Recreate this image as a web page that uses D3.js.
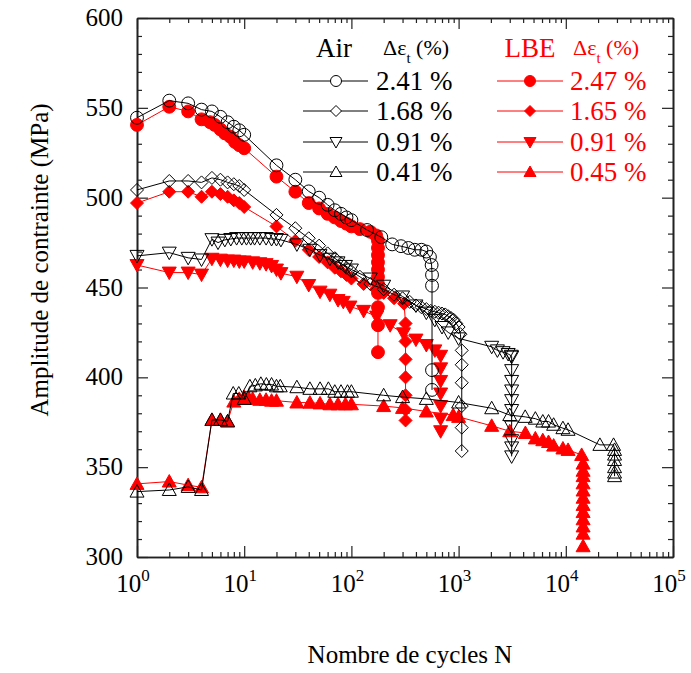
<!DOCTYPE html>
<html><head><meta charset="utf-8">
<script src="https://cdn.jsdelivr.net/npm/d3@7"></script>
<style>
body{margin:0;background:#fff;}
</style></head>
<body><svg id="c" width="691" height="673" font-family="'Liberation Serif', 'Times New Roman', Times, 'DejaVu Serif', serif"></svg>
<script>
// ---------------- DATA ----------------
const airLabels = ["2.41 %","1.68 %","0.91 %","0.41 %"];
const lbeLabels = ["2.47 %","1.65 %","0.91 %","0.45 %"];
const xTickExps = [0,1,2,3,4,5];
const yTicks = [300,350,400,450,500,550,600];

const air241N = [1,2,3,4,5,6,7,8,9,10,20,30,40,50,60,70,80,90,100,140,190,240,290,340,390,450,500,540,560,565,565,565,565];
const air241S = [544.5,554,552.5,549,548,545,542,539.5,537.5,535,518,510,503.5,500,496,493,491,489,487.5,482,478,474,473,472,471,471,470,467,462.5,457,451,404,393];

const lbe247N = [1,2,3,4,4.8,5.3,6,6.6,7.4,8.2,9,10,20,30,40,50,60,70,80,90,100,120,150,170,177,177,177,177,177,177,177,177,177,177,177];
const lbe247S = [540.5,550.6,548,543.6,542,540.5,538,535.8,534,531,529.2,527.5,511.7,503.3,497,494,491,489,487,485.5,484,482.5,481,479,476,472,468,464,460,456,452,447,439,429,414];

const air168N = [1,2,3,4,5,6,7,8,9,10,20,30,40,50,60,70,80,90,100,120,150,200,250,300,350,400,450,500,550,600,650,700,750,800,850,900,950,1000,1040,1070,1070,1070,1070,1070,1070];
const air168S = [504.3,509.3,509.3,508.5,511,510,508.5,507.5,506.5,504.3,490.4,483,477.4,473.3,469,466.3,463.5,461,459,456,452,449,446,444,442,440,439,438,437,436.5,436,435.5,435,434,433,432,430,428,424,415,407,397,384,372,359];

const lbe165N = [1,2,3,4,5,6,7,8,9,10,20,30,40,50,60,70,80,90,100,130,170,200,250,310,320,320,320,320,320,320,320];
const lbe165S = [497,503.3,503.3,500.5,503.3,502,500.5,498.5,497,494.8,484,476,471,467,464,461,459,457,455,452,449,447,444,441,430,420,410,400,390,382,376];

const air091N = [1,2,3,4,5,5.7,6.6,7.5,8.5,9.5,10.5,11.5,12.5,14,16,18,20,22,31,41,51,63,75,88,100,150,200,300,400,500,600,700,800,1000,2036,2300,2600,2900,3100,3125,3125,3125,3125,3125,3125,3125,3125,3125,3125];
const air091S = [467.6,469.4,466.5,465.6,476.9,475,476.5,477,477.5,477.5,477.5,477.5,477.5,477.5,477.5,477,477,476.5,474,471,468,466,464,462,460,455,451,445,440,436,432,428,425,421.7,417,415,414,413,412,411.5,404,398,392.7,387.3,381.8,372.6,365,361,356];

const lbe091N = [1,2,3,4,5,6,7,8,9,10,12,14,16,18,20,22,31,40,51,63,75,84,97,130,172,230,306,400,500,600,680,680,680,680,680,680,680];
const lbe091S = [462.5,458.3,458.3,457.2,466,465.5,465,465,464.5,464.5,464,463.5,463,462,460,458,456,451.4,447.7,446,443,442,439.4,437,433.8,429,424.5,421,418,415,412,405,398,391,384,377,370];

const air041N = [1,2,3,4,5,6,7,7.9,8.9,10,11.3,12.7,14.3,16.1,18,20,21.7,31,41,51,61,70,80,92,100,200,300,500,1000,2036,3000,4180,5200,6100,6900,7700,9400,10500,20800,27900,28500,28500,28500,28500,28500,28500];
const air041S = [336.4,337.3,339,337.3,376.3,376.3,375.5,391,391,388,395,395.5,396.4,396,396,395,395,394.5,393.6,393.6,393.6,392,392,392,392,390,389,388,386,382.8,379,378,377,375.4,375.4,373.6,371.7,370.8,362.4,362.4,359.6,357,354,350,347,345];

const lbe045N = [1,2,3,4,5,6,7,8,9,10,11,12,14,16,18,20,31,41,51,63,75,88,100,200,300,500,890,1000,2036,3000,4200,5200,6100,6900,7700,9400,10500,14060,14500,14500,14500,14500,14500,14500,14500,14500,14500,14500,14500,14500];
const lbe045S = [340.7,342,340,338.8,376.3,376.3,375.5,386.5,388,389,388.5,388,387.5,387.5,387,387,386,385.9,385.5,385,385,385,385,384,383,381,379,378,373,370,369,366,365,364,362,360.4,359.6,356.8,352,348,345,341,337,333,329,325,321,317,313,306];

// ---------------- CHART ----------------
const svg = d3.select("#c");
const L=137, R=673, T=18, B=557;
const x = d3.scaleLog().domain([1,1e5]).range([L,R]);
const y = d3.scaleLinear().domain([300,600]).range([B,T]);

const majorX = xTickExps.map(e=>Math.pow(10,e));
const minorX = [];
for(let e=0;e<5;e++) for(let k=2;k<=9;k++) minorX.push(k*Math.pow(10,e));
const minorY = d3.range(300,601,10).filter(v=>v%50!==0);
const MJ=11, MN=5;

function ax(gen, tr, vals, size){
  const g = svg.append("g").attr("transform",tr)
    .call(gen.tickValues(vals).tickSize(size).tickSizeOuter(0).tickFormat(""));
  g.selectAll("line").attr("stroke","#222").attr("stroke-width",1.2);
  g.select(".domain").attr("stroke","#222").attr("stroke-width",1.6);
  return g;
}
ax(d3.axisBottom(x), `translate(0,${B})`, majorX, -MJ);
ax(d3.axisBottom(x), `translate(0,${B})`, minorX, -MN);
ax(d3.axisTop(x), `translate(0,${T})`, majorX, -MJ);
ax(d3.axisTop(x), `translate(0,${T})`, minorX, -MN);
ax(d3.axisLeft(y), `translate(${L},0)`, yTicks, -MJ);
ax(d3.axisLeft(y), `translate(${L},0)`, minorY, -MN);
ax(d3.axisRight(y), `translate(${R},0)`, yTicks, -MJ);
ax(d3.axisRight(y), `translate(${R},0)`, minorY, -MN);

// tick labels
svg.append("g").selectAll("text").data(yTicks).join("text")
  .attr("x",L-14).attr("y",d=>y(d)+8).attr("text-anchor","end")
  .attr("font-size",25).text(d=>d);
const xl = svg.append("g").selectAll("text").data(xTickExps).join("text")
  .attr("x",d=>x(Math.pow(10,d))-4).attr("y",B+35).attr("text-anchor","middle")
  .attr("font-size",25);
xl.append("tspan").text("10");
xl.append("tspan").attr("dy",-11).attr("font-size",17).text(d=>d);

svg.append("text").attr("x",410).attr("y",663).attr("text-anchor","middle")
  .attr("font-size",25).text("Nombre de cycles N");
svg.append("text").attr("transform","translate(48,260) rotate(-90)")
  .attr("text-anchor","middle").attr("font-size",25).text("Amplitude de contrainte (MPa)");

// markers
const sym = {
  circle: d3.symbol(d3.symbolCircle, 130)(),
  diamond: "M0,-6.5L6.5,0L0,6.5L-6.5,0Z",
  down: "M-7,-5.5L7,-5.5L0,7Z",
  up: "M-7,5.5L7,5.5L0,-7Z"
};
const symL = {
  circle: d3.symbol(d3.symbolCircle, 95)(),
  diamond: "M0,-5.5L5.5,0L0,5.5L-5.5,0Z",
  down: "M-6,-4.5L6,-4.5L0,6Z",
  up: "M-6,4.5L6,4.5L0,-6Z"
};

function series(N,S,shape,color,filled){
  const pts = N.map((n,i)=>[n,S[i]]);
  const line = d3.line().x(d=>x(d[0])).y(d=>y(d[1]));
  svg.append("path").attr("d",line(pts)).attr("fill","none")
    .attr("stroke",color).attr("stroke-width",1);
  svg.append("g").selectAll("path").data(pts).join("path")
    .attr("transform",d=>`translate(${x(d[0])},${y(d[1])})`)
    .attr("d",sym[shape])
    .attr("fill",filled?color:"none").attr("stroke",color).attr("stroke-width",1);
}
const RED="#ff0000";
series(lbe045N,lbe045S,"up",RED,true);
series(lbe091N,lbe091S,"down",RED,true);
series(lbe165N,lbe165S,"diamond",RED,true);
series(lbe247N,lbe247S,"circle",RED,true);
series(air041N,air041S,"up","#000",false);
series(air091N,air091S,"down","#000",false);
series(air168N,air168S,"diamond","#000",false);
series(air241N,air241S,"circle","#000",false);

// legend
const rowsY=[81,111,142,172];
const shapes=["circle","diamond","down","up"];
function legend(x0,x1,xm,xt,labels,color,filled,head,hx,dx){
  svg.append("text").attr("x",hx).attr("y",57).attr("fill",color).attr("font-size",27)
    .attr("text-anchor","middle").text(head);
  const t = svg.append("text").attr("x",dx).attr("y",55).attr("fill",color).attr("font-size",22);
  t.append("tspan").text("Δε");
  t.append("tspan").attr("dy",8).attr("font-size",15).text("t");
  t.append("tspan").attr("dy",-8).text(" (%)");
  labels.forEach((lab,i)=>{
    const yy=rowsY[i];
    svg.append("line").attr("x1",x0).attr("x2",x1).attr("y1",yy).attr("y2",yy)
      .attr("stroke",color).attr("stroke-width",1);
    svg.append("path").attr("transform",`translate(${xm},${yy})`).attr("d",symL[shapes[i]])
      .attr("fill",filled?color:"#fff").attr("stroke",color).attr("stroke-width",1);
    svg.append("text").attr("x",xt).attr("y",yy+9).attr("fill",color).attr("font-size",27).text(lab);
  });
}
legend(303,368,336,376,airLabels,"#000",false,"Air",334,383);
legend(497,563,530,570,lbeLabels,RED,true,"LBE",530,573);
</script></body></html>
